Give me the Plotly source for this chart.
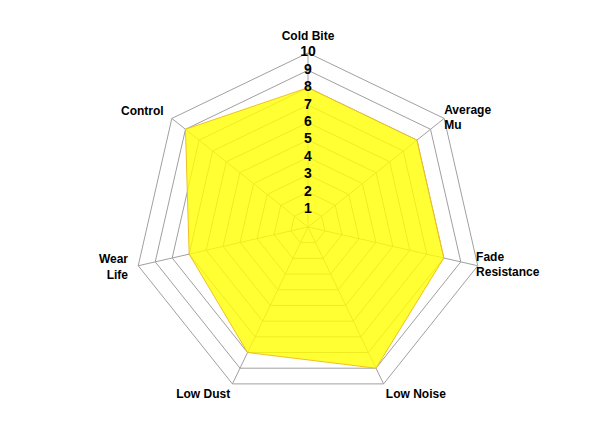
import plotly.graph_objects as go

# pad characteristics, scored 0-10
categories = ["Cold Bite", "Average Mu", "Fade Resistance", "Low Noise",
              "Low Dust", "Wear Life", "Control"]
label_text = ["Cold Bite", "Average<br>Mu", "Fade<br>Resistance", "Low Noise",
              "Low Dust", "Wear<br>Life", "Control"]
scores = [8, 8, 8, 9, 8, 7, 9]
tick_vals = [1, 2, 3, 4, 5, 6, 7, 8, 9, 10]

# category names hang off the corners of the 10 ring
label_r = [10.55, 10, 9.9, 10.3, 10.3, 10.6, 10.6]
label_pos = ["top center", "middle right", "middle right", "bottom right",
             "bottom left", "middle left", "middle left"]
r_max = 11.6

font_bold = "Liberation Sans, Arial, sans-serif"

fig = go.Figure()

# spokes, only out to the 10 ring
spoke_r, spoke_theta = [], []
for c in categories:
    spoke_r += [0, 10, None]
    spoke_theta += [c, c, None]
fig.add_trace(go.Scatterpolar(
    r=spoke_r,
    theta=spoke_theta,
    mode="lines",
    line=dict(color="#a0a0a0", width=1),
    connectgaps=False,
    hoverinfo="skip",
    showlegend=False,
))

fig.add_trace(go.Scatterpolar(
    r=scores + scores[:1],
    theta=categories + categories[:1],
    mode="lines",
    fill="toself",
    fillcolor="rgba(255,255,0,0.8)",
    line=dict(color="#f0c020", width=1),
    hoverinfo="skip",
    showlegend=False,
))

# radial tick numbers, centred on the Cold Bite spoke
fig.add_trace(go.Scatterpolar(
    r=tick_vals,
    theta=[categories[0]] * len(tick_vals),
    mode="text",
    text=[str(v) for v in tick_vals],
    textfont=dict(family=font_bold, size=14, color="black", weight="bold"),
    textposition="middle center",
    hoverinfo="skip",
    showlegend=False,
))

# category names
fig.add_trace(go.Scatterpolar(
    r=label_r,
    theta=categories,
    mode="text",
    text=label_text,
    textfont=dict(family=font_bold, size=12, color="black", weight="bold"),
    textposition=label_pos,
    cliponaxis=False,
    hoverinfo="skip",
    showlegend=False,
))

fig.update_layout(
    width=600,
    height=430,
    margin=dict(l=40, r=40, t=17, b=9),
    paper_bgcolor="white",
    plot_bgcolor="white",
    polar=dict(
        bgcolor="white",
        gridshape="linear",
        radialaxis=dict(
            range=[0, r_max],
            tickvals=tick_vals,
            showticklabels=False,
            ticks="",
            showline=False,
            gridcolor="#a0a0a0",
            gridwidth=1,
        ),
        angularaxis=dict(
            direction="clockwise",
            rotation=90,
            showline=False,
            showgrid=False,
            ticks="",
            showticklabels=False,
        ),
    ),
)

fig.write_html("out.html")
